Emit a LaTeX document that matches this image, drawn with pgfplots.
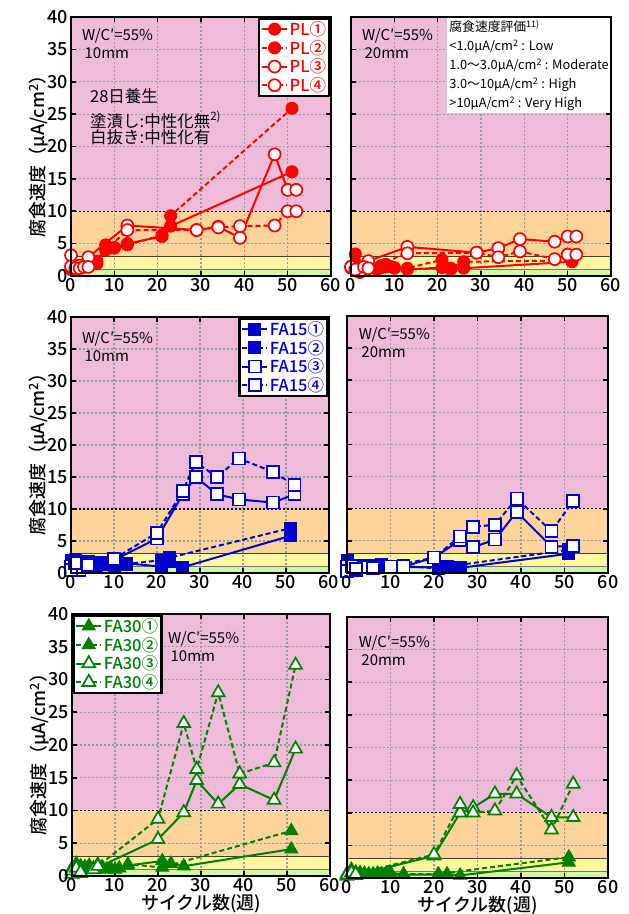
\documentclass[border=0pt]{standalone}
\usepackage{pgfplots}
\pgfplotsset{compat=1.18}
\usepackage{fontspec}
\setmainfont{Noto Sans CJK JP}
\newfontfamily\medfont{Noto Sans CJK JP Medium}
\definecolor{bPink}{RGB}{238,188,216}
\definecolor{bOrange}{RGB}{253,212,156}
\definecolor{bYellow}{RGB}{253,248,160}
\definecolor{bGreen}{RGB}{214,244,166}
\definecolor{cRed}{RGB}{255,0,0}
\definecolor{cBlue}{RGB}{0,0,204}
\definecolor{cGreen}{RGB}{0,128,0}
\newcommand\tickfont{\medfont\fontsize{18}{18}\selectfont}
\newcommand\labfont{\medfont\fontsize{18}{18}\selectfont}
\newcommand\wcfont{\fontsize{15}{18}\selectfont}
\pgfplotsset{
 layers/mylayers/.define layer set={axis background,axis grid,axis ticks,pre main,main,axis lines,axis tick labels,axis descriptions,axis foreground}{
  grid style={/pgfplots/on layer=axis grid},
  tick style={/pgfplots/on layer=axis ticks},
  axis line style={/pgfplots/on layer=axis lines},
  label style={/pgfplots/on layer=axis descriptions},
  legend style={/pgfplots/on layer=axis descriptions},
  title style={/pgfplots/on layer=axis descriptions},
  colorbar style={/pgfplots/on layer=axis descriptions},
  ticklabel style={/pgfplots/on layer=axis tick labels},
  axis background@ style={/pgfplots/on layer=axis background},
  3d box foreground style={/pgfplots/on layer=axis foreground},
 },
 panel/.style={
  set layers=mylayers,
  scale only axis, xmin=0, xmax=60, ymin=0, ymax=40,
  xtick={0,10,...,60}, ytick={0,5,...,40},
  tick pos=both, xticklabel pos=lower, yticklabel pos=left,
  tick align=inside, major tick length=5pt,
  tick style={black, line width=1.6pt},
  axis line style={line width=2.8pt},
  grid=major,
  major grid style={draw=black!40, line width=1.2pt, dash pattern=on 1.6pt off 2.4pt},
  ticklabel style={font=\tickfont},
  yticklabel style={inner xsep=3pt, inner ysep=0pt},
  xticklabel style={inner ysep=2.5pt, inner xsep=0pt},
  /pgf/number format/assume math mode=true,
  clip=false,
  legend image code/.code={\draw[mark repeat=2,mark phase=2] plot coordinates {(0pt,0pt)(12.5pt,0pt)(25pt,0pt)};},
  legend cell align=left,
  ylabel style={at={(axis description cs:-0.125,0.48)}, anchor=center, font=\labfont},
  xlabel style={at={(axis description cs:0.5,-0.105)}, anchor=center, font=\labfont},
 },
 lgd/.style={legend style={draw=black, line width=2.6pt, fill=white, font=\medfont\fontsize{16.5}{17}\selectfont, text=#1, inner xsep=2pt, inner ysep=1.5pt, row sep=0pt, nodes={inner sep=1.6pt}}},
 sA/.style={solid, line width=2pt},
 sB/.style={line width=2pt, dash pattern=on 5pt off 3pt},
 fil/.style 2 args={color=#1, mark=#2, mark options={solid, fill=#1, line width=1pt}},
 opn/.style 2 args={color=#1, mark=#2, mark options={solid, fill=white, line width=1.7pt}},
 cir/.style={mark size=6pt},
 sqr/.style={mark size=6pt},
 tri/.style={mark size=7.4pt},
}
\newcommand{\bands}{%
 \addplot[on layer=axis background, draw=none, fill=bGreen, forget plot] coordinates {(0,0)(60,0)(60,1)(0,1)} \closedcycle;
 \addplot[on layer=axis background, draw=none, fill=bYellow, forget plot] coordinates {(0,1)(60,1)(60,3)(0,3)} \closedcycle;
 \addplot[on layer=axis background, draw=none, fill=bOrange, forget plot] coordinates {(0,3)(60,3)(60,10)(0,10)} \closedcycle;
 \addplot[on layer=axis background, draw=none, fill=bPink, forget plot] coordinates {(0,10)(60,10)(60,40)(0,40)} \closedcycle;
 \addplot[on layer=axis ticks, forget plot, draw=black!55, line width=1pt] coordinates {(0,1)(60,1)};
 \addplot[on layer=axis ticks, forget plot, draw=black!75, line width=1.2pt] coordinates {(0,3)(60,3)};
 \addplot[on layer=axis ticks, forget plot, draw=black, line width=1.3pt, dash pattern=on 1.6pt off 2.4pt] coordinates {(0,10)(60,10)};
}
\newcommand\ylab{腐食速度（μA/cm\textsuperscript{2}）}
\begin{document}
\begin{tikzpicture}

% ---------- PL 10mm
\begin{axis}[panel, at={(71pt,638pt)}, anchor=south west, width=260pt, height=259pt,
  ylabel={\ylab}, lgd=cRed, legend style={at={(1,1)}, anchor=north east}]
\bands
\addplot[fil={cRed}{*}, cir, sA] coordinates {(0,1.0)(1,1.4)(2,1.3)(4,1.9)(6,1.9)(8,4.8)(10,4.4)(13,5.0)(21,6.1)(23,7.7)(51,16.1)};
\addlegendentry{PL①}
\addplot[fil={cRed}{*}, cir, sB] coordinates {(0,1.3)(1,1.1)(2,1.6)(4,1.6)(6,2.3)(8,4.0)(10,4.3)(13,4.8)(21,6.3)(23,9.3)(51,25.9)};
\addlegendentry{PL②}
\addplot[opn={cRed}{*}, cir, sA] coordinates {(0,3.2)(2,1.6)(4,2.9)(13,7.8)(29,7.1)(34,7.6)(39,5.9)(47,18.8)(50,13.3)(52,13.3)};
\addlegendentry{PL③}
\addplot[opn={cRed}{*}, cir, sB] coordinates {(0,1.5)(1,1.2)(2,1.2)(3,1.4)(4,1.4)(13,7.1)(29,7.1)(34,7.5)(39,7.7)(47,7.8)(50,10.0)(52,10.0)};
\addlegendentry{PL④}
\node[anchor=north west, inner sep=0pt, align=left, font=\wcfont] at (rel axis cs:0.042,0.955) {W/C′=55\%\\\,10mm};
\node[anchor=west, inner sep=0pt, font=\fontsize{16.5}{17}\selectfont] at (rel axis cs:0.073,0.695) {28日養生};
\node[anchor=west, inner sep=0pt, font=\fontsize{16.5}{17}\selectfont] at (rel axis cs:0.073,0.602) {塗漬し:中性化無\textsuperscript{2)}};
\node[anchor=west, inner sep=0pt, font=\fontsize{16.5}{17}\selectfont] at (rel axis cs:0.073,0.537) {白抜き:中性化有};
\end{axis}

% ---------- PL 20mm
\begin{axis}[panel, at={(351pt,638pt)}, anchor=south west, width=260pt, height=259pt, yticklabels={}]
\bands
\addplot[fil={cRed}{*}, cir, sA] coordinates {(0,1.5)(1,3.4)(2,1.0)(4,1.4)(6,1.2)(7,1.6)(8,1.8)(9,1.5)(10,1.2)(13,1.0)(21,1.3)(23,1.0)(26,1.2)(51,2.2)};
\addplot[fil={cRed}{*}, cir, sB] coordinates {(0,1.2)(1,2.0)(3,1.0)(6,1.0)(7,1.3)(8,1.4)(10,1.3)(13,1.2)(21,2.5)(23,1.2)(26,2.2)(51,2.4)};
\addplot[opn={cRed}{*}, cir, sA] coordinates {(0,1.4)(2,0.6)(4,2.3)(13,4.5)(29,3.6)(34,4.3)(39,5.7)(47,5.3)(50,6.1)(52,6.1)};
\addplot[opn={cRed}{*}, cir, sB] coordinates {(1,1.0)(3,1.4)(4,1.2)(13,3.5)(29,3.6)(34,2.9)(39,3.8)(47,2.6)(50,3.3)(52,3.3)};
\node[anchor=north west, inner sep=0pt, align=left, font=\wcfont] at (rel axis cs:0.042,0.955) {W/C′=55\%\\\,20mm};
\node[anchor=north east, fill=white, inner xsep=2pt, inner ysep=2.5pt, align=left, font=\fontsize{12.8}{19}\selectfont] at (rel axis cs:1,1) {腐食速度評価\textsuperscript{11)}\\<1.0μA/cm\textsuperscript{2} : Low\\1.0～3.0μA/cm\textsuperscript{2} : Moderate\\3.0～10μA/cm\textsuperscript{2} : High\\>10μA/cm\textsuperscript{2} : Very High};
\end{axis}

% ---------- FA15 10mm
\begin{axis}[panel, at={(71pt,341pt)}, anchor=south west, width=258pt, height=256pt,
  ylabel={\ylab}, lgd=cBlue, legend style={at={(1,1)}, anchor=north east}]
\bands
\addplot[fil={cBlue}{square*}, sqr, sA] coordinates {(0,1.5)(1,2.1)(3,1.6)(5,1.2)(6,1.5)(8,1.3)(10,1.4)(13,1.5)(21,1.0)(23,1.8)(26,0.9)(51,5.8)};
\addlegendentry{FA15①}
\addplot[fil={cBlue}{square*}, sqr, sB] coordinates {(0,2.0)(1,1.8)(4,1.8)(6,1.2)(7,1.6)(10,1.2)(13,1.4)(21,2.0)(23,2.4)(51,7.0)};
\addlegendentry{FA15②}
\addplot[opn={cBlue}{square*}, sqr, sA] coordinates {(0,1.0)(2,0.5)(4,1.5)(10,2.0)(20,5.4)(26,12.3)(29,15.0)(34,12.3)(39,11.5)(47,11.0)(52,12.3)};
\addlegendentry{FA15③}
\addplot[opn={cBlue}{square*}, sqr, sB] coordinates {(0,0.5)(1,1.6)(4,1.2)(10,2.2)(20,6.3)(26,12.8)(29,17.3)(34,15.0)(39,17.9)(47,15.8)(52,13.7)};
\addlegendentry{FA15④}
\node[anchor=north west, inner sep=0pt, align=left, font=\wcfont] at (rel axis cs:0.042,0.945) {W/C′=55\%\\\,10mm};
\end{axis}

% ---------- FA15 20mm
\begin{axis}[panel, at={(347pt,341pt)}, anchor=south west, width=261pt, height=257pt, yticklabels={}]
\bands
\addplot[fil={cBlue}{square*}, sqr, sA] coordinates {(0,1.9)(1,1.2)(3,0.9)(5,1.0)(7,1.1)(8,1.4)(10,0.9)(13,0.9)(21,0.9)(23,0.8)(26,0.8)(51,3.0)};
\addplot[fil={cBlue}{square*}, sqr, sB] coordinates {(0,1.4)(2,1.0)(4,1.1)(6,1.0)(8,1.2)(10,1.0)(13,1.1)(21,0.7)(23,1.0)(51,3.6)};
\addplot[opn={cBlue}{square*}, sqr, sA] coordinates {(0,1.0)(1,0.5)(2,0.5)(4,0.9)(10,0.9)(13,1.0)(20,2.4)(26,5.1)(29,4.0)(34,5.2)(39,9.5)(47,4.1)(52,4.2)};
\addplot[opn={cBlue}{square*}, sqr, sB] coordinates {(0,0.3)(1,1.1)(2,0.6)(6,0.8)(10,1.0)(20,2.4)(26,5.7)(29,7.2)(34,7.5)(39,11.6)(47,6.5)(52,11.2)};
\node[anchor=north west, inner sep=0pt, align=left, font=\wcfont] at (rel axis cs:0.045,0.955) {W/C′=55\%\\\,20mm};
\end{axis}

% ---------- FA30 10mm
\begin{axis}[panel, at={(72pt,38pt)}, anchor=south west, width=258pt, height=262pt,
  ylabel={\ylab}, xlabel={サイクル数(週)}, lgd=cGreen, legend style={at={(0,1)}, anchor=north west}]
\bands
\addplot[fil={cGreen}{triangle*}, tri, sA] coordinates {(0,1.2)(1,1.9)(3,1.4)(5,1.2)(7,1.4)(8,1.0)(10,1.0)(13,1.6)(21,2.3)(23,1.9)(26,1.5)(51,4.1)};
\addlegendentry{FA30①}
\addplot[fil={cGreen}{triangle*}, tri, sB] coordinates {(0,1.0)(2,1.5)(4,1.6)(6,1.8)(9,1.2)(11,1.2)(13,1.8)(21,1.3)(51,6.9)};
\addlegendentry{FA30②}
\addplot[opn={cGreen}{triangle*}, tri, sA] coordinates {(0,0.3)(1,1.7)(2,0.4)(5,1.0)(20,5.6)(26,9.7)(29,14.6)(34,11.0)(39,14.0)(47,11.6)(52,19.4)};
\addlegendentry{FA30③}
\addplot[opn={cGreen}{triangle*}, tri, sB] coordinates {(0,0.8)(1,1.2)(2,0.6)(6,1.5)(20,8.7)(26,23.3)(29,16.3)(34,28.0)(39,15.6)(47,17.3)(52,32.2)};
\addlegendentry{FA30④}
\node[anchor=north west, inner sep=0pt, align=left, font=\wcfont] at (rel axis cs:0.372,0.935) {W/C′=55\%\\\,10mm};
\end{axis}

% ---------- FA30 20mm
\begin{axis}[panel, at={(347pt,36pt)}, anchor=south west, width=261pt, height=261pt, yticklabels={}, xlabel={サイクル数(週)}]
\bands
\addplot[fil={cGreen}{triangle*}, tri, sA] coordinates {(0,0.7)(1,1.3)(3,0.8)(5,0.6)(7,0.7)(9,0.6)(10,0.8)(13,0.5)(21,0.5)(23,0.6)(26,0.4)(51,2.4)};
\addplot[fil={cGreen}{triangle*}, tri, sB] coordinates {(0,0.5)(2,0.9)(4,0.7)(6,0.6)(8,0.6)(10,0.7)(13,0.6)(21,0.6)(51,3.2)};
\addplot[opn={cGreen}{triangle*}, tri, sA] coordinates {(0,0.3)(1,1.0)(2,0.4)(20,3.4)(26,10.0)(29,10.8)(34,12.9)(39,12.9)(47,9.3)(52,9.3)};
\addplot[opn={cGreen}{triangle*}, tri, sB] coordinates {(0,0.5)(1,0.8)(2,0.6)(20,3.6)(26,11.3)(29,10.0)(34,10.3)(39,15.7)(47,7.4)(52,14.4)};
\node[anchor=north west, inner sep=0pt, align=left, font=\wcfont] at (rel axis cs:0.045,0.93) {W/C′=55\%\\\,20mm};
\end{axis}

\pgfresetboundingbox
\path[use as bounding box] (0pt,0pt) rectangle (629pt,914pt);
\end{tikzpicture}
\end{document}
